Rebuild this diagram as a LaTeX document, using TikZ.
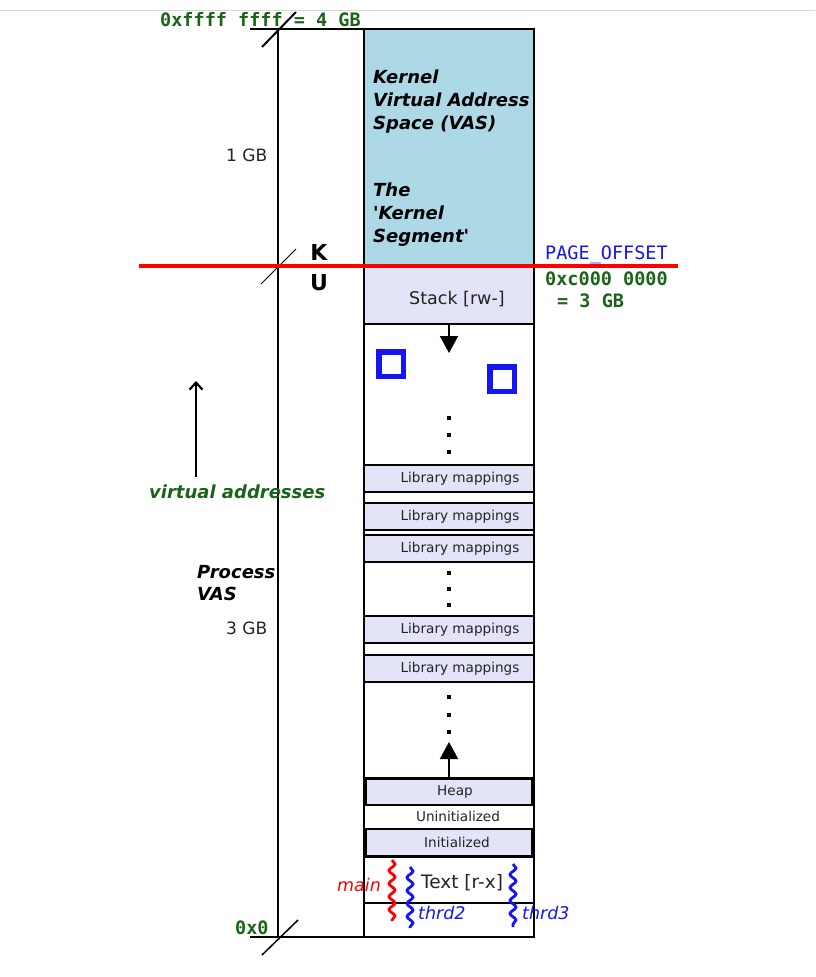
\documentclass[tikz,border=0pt]{standalone}
\usepackage{fontspec}
\setmainfont{DejaVu Sans}
\newfontfamily\monofont{DejaVu Sans Mono}
\newfontfamily\straightfont{DejaVu Sans}[Ligatures=TeXOff]
\usetikzlibrary{arrows.meta,decorations.pathmorphing}
\definecolor{kblue}{RGB}{173,216,230}
\definecolor{lav}{RGB}{228,228,248}
\definecolor{dgreen}{RGB}{25,100,25}
\definecolor{tblue}{RGB}{20,20,245}
\definecolor{tred}{RGB}{255,0,0}
\definecolor{tgray}{RGB}{35,35,35}
\tikzset{
  col/.style={draw=black, line width=2pt, inner sep=0pt, outer sep=0pt, anchor=north west, minimum width=170pt},
  lavbox/.style={col, fill=lav},
  thickbox/.style={draw=black, line width=2.6pt, fill=lav, inner sep=0pt, outer sep=0pt, anchor=north west, minimum width=166pt},
  libtxt/.style={font=\fontsize{13.6}{15}\selectfont, text=tgray},
  hex/.style={font=\monofont\bfseries\fontsize{18.5}{20}\selectfont, text=dgreen, anchor=base west, inner sep=0pt},
  kern/.style={font=\bfseries\itshape\fontsize{18}{20}\selectfont, anchor=base west, inner sep=0pt},
  kernq/.style={font=\straightfont\bfseries\itshape\fontsize{18}{20}\selectfont, anchor=base west, inner sep=0pt},
  gb/.style={font=\fontsize{17}{19}\selectfont, text=tgray, anchor=base west, inner sep=0pt},
  squig/.style={line width=2.8pt, decorate, decoration={snake, amplitude=3pt, segment length=13pt}},
  ital/.style={font=\itshape\fontsize{17.5}{19}\selectfont, anchor=base west, inner sep=0pt},
  dotm/.style={fill=black, minimum size=4.5pt, inner sep=0pt, outer sep=0pt},
  bluesq/.style={draw=tblue, line width=5.5pt, minimum size=24.5pt, inner sep=0pt}
}
\begin{document}
\begin{tikzpicture}[x=1pt,y=-1pt]
\useasboundingbox (0,0) rectangle (815,977);
\draw[gray!30, line width=1pt] (0,10) -- (815,10);

% column regions
\node[col, fill=kblue, minimum height=237pt] (kernel) at (364,29) {};
\node[lavbox, minimum height=58pt] (stack) at (364,266) {};
\node[col, minimum height=141pt] (gap1) at (364,324) {};
\node[lavbox, minimum height=27pt] (lib1) at (364,465) {};
\node[col, minimum height=11pt] (s1) at (364,492) {};
\node[lavbox, minimum height=27pt] (lib2) at (364,503) {};
\node[col, minimum height=5pt] (s2) at (364,530) {};
\node[lavbox, minimum height=27pt] (lib3) at (364,535) {};
\node[col, minimum height=54pt] (gap2) at (364,562) {};
\node[lavbox, minimum height=27pt] (lib4) at (364,616) {};
\node[col, minimum height=12pt] (s3) at (364,643) {};
\node[lavbox, minimum height=27pt] (lib5) at (364,655) {};
\node[col, minimum height=96pt] (gap3) at (364,682) {};
\node[col, minimum height=79pt] (data) at (364,778) {};
\node[thickbox, minimum height=26pt] (heap) at (366,779) {};
\node[thickbox, minimum height=27pt] (init) at (366,829) {};
\node[col, minimum height=46pt] (text) at (364,857) {};
\node[col, minimum height=34pt] (bottom) at (364,903) {};

% texts in column
\node[kern] (k1) at (373,83) {Kernel};
\node[kern] (k2) at (373,106) {Virtual Address};
\node[kern] (k3) at (373,129) {Space (VAS)};
\node[kern] (k4) at (373,196) {The};
\node[kernq] (k5) at (373,219) {'Kernel};
\node[kernq] (k6) at (373,242) {Segment'};
\node[font=\fontsize{17.5}{19}\selectfont, text=tgray, anchor=base west, inner sep=0pt] (stk) at (409,304) {Stack [rw-]};
\foreach \b in {lib1,lib2,lib3,lib4,lib5}{
  \node[libtxt] at ([xshift=11pt]\b.center) {Library mappings};
}
\node[libtxt] (hp) at ([xshift=6pt]heap.center) {Heap};
\node[libtxt] (un) at (458,816) {Uninitialized};
\node[libtxt] (in) at ([xshift=8pt]init.center) {Initialized};
\node[font=\fontsize{18.5}{20}\selectfont, text=tgray, anchor=base west, inner sep=0pt] (tx) at (421,888) {Text [r-x]};

% arrows inside column
\coordinate (dn) at (449,353);
\draw[line width=2pt, -{Triangle[length=17pt,width=18pt]}] (stack.south -| dn) -- (dn);
\coordinate (up) at (449,742);
\draw[line width=2pt, -{Triangle[length=17pt,width=18pt]}] (heap.north -| up) -- (up);

% blue squares
\node[bluesq] (sq1) at (391,364) {};
\node[bluesq] (sq2) at (502,379) {};

% dots
\foreach \y in {418,435,452,573,589,605,697,715,732}{
  \node[dotm] at (449,\y) {};
}

% left axis
\coordinate (atop) at (278,29);
\coordinate (abot) at (278,937);
\draw[line width=1.5pt] (atop) -- (abot);
\draw[line width=1.5pt] (250,29) -- (kernel.north west);
\draw[line width=1.5pt] (250,937) -- (348,937) -- (bottom.south west);
\draw[line width=2pt] (262,47) -- (296,12);
\draw[line width=1pt] (261,284) -- (296,249);
\draw[line width=1.5pt] (262,955) -- (298,920);

% red line
\coordinate (rl) at (139,266);
\coordinate (rr) at (678,266);
\draw[tred, line width=3.2pt] (rl) -- (rr);

% labels
\node[hex] (top) at (160,26) {0xffff ffff = 4 GB};
\node[hex, font=\monofont\fontsize{18.5}{20}\selectfont, text=tblue] (po) at (545,259) {PAGE\_OFFSET};
\node[hex] (c0) at (545,285) {0xc000 0000};
\node[hex] (c1) at (557,307) {= 3 GB};
\node[hex] (zero) at (235,934) {0x0};
\node[gb] (g1) at (226,161) {1 GB};
\node[gb] (g3) at (226,634) {3 GB};
\node[font=\bfseries\fontsize{22}{24}\selectfont, inner sep=0pt] (K) at (319,252) {K};
\node[font=\bfseries\fontsize{22}{24}\selectfont, inner sep=0pt] (U) at (319,283) {U};
\coordinate (va1) at (196,477);
\coordinate (va2) at (196,381);
\draw[line width=2.2pt, -{Straight Barb[length=7pt,width=13pt]}] (va1) -- (va2);
\node[kern, text=dgreen] (va) at (149,498) {virtual addresses};
\node[kern] (p1) at (197,578) {Process};
\node[kern] (p2) at (197,600) {VAS};

% threads
\draw[squig, tred] (392,860) -- (392,921);
\draw[squig, tblue] (410,867) -- (410,928);
\draw[squig, tblue] (513,864) -- (513,927);
\node[ital, text=tred] (mn) at (337,891) {main};
\node[ital, text=tblue] (t2) at (418,919) {thrd2};
\node[ital, text=tblue] (t3) at (522,919) {thrd3};
\end{tikzpicture}
\end{document}
